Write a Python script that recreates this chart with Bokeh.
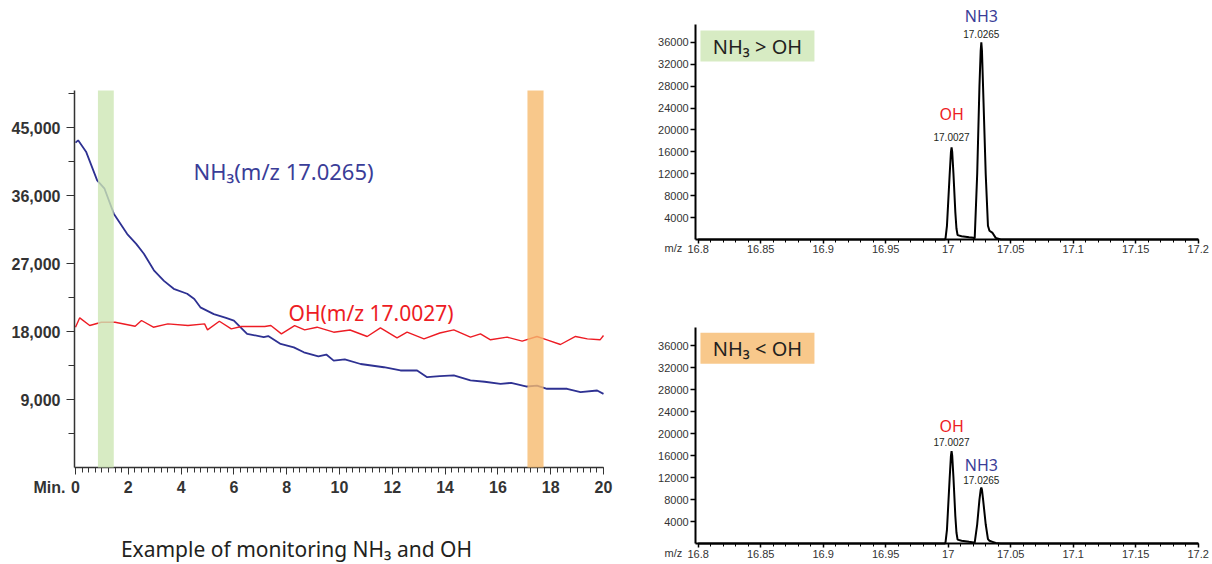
from bokeh.plotting import figure
from bokeh.layouts import row, column
from bokeh.models import (FixedTicker, NumeralTickFormatter, BoxAnnotation, Label, LinearAxis)
from bokeh.embed import file_html
from bokeh.resources import INLINE
import numpy as np

# ---------------- data: time monitoring ----------------
nh3_t = [0.0, 0.1, 0.4, 0.82, 1.1, 1.45, 1.96, 2.3, 2.59, 2.97, 3.35, 3.72, 4.23, 4.5,
         4.73, 5.24, 5.7, 6.0, 6.5, 7.13, 7.3, 7.77, 8.27, 8.65, 9.2, 9.5, 9.78, 10.2,
         10.8, 11.68, 12.31, 12.94, 13.32, 13.8, 14.33, 14.96, 15.5, 16.1, 16.5, 17.1,
         17.48, 17.86, 18.62, 19.13, 19.76, 20.0]
nh3_v = [43000, 43300, 41800, 38000, 36900, 33600, 30900, 29600, 28300, 26100, 24700,
         23650, 23000, 22300, 21200, 20300, 19800, 19450, 17700, 17250, 17400, 16350,
         15900, 15250, 14700, 14950, 14150, 14300, 13700, 13270, 12840, 12840, 11950,
         12100, 12180, 11520, 11350, 11080, 11200, 10720, 10850, 10420, 10420, 9970,
         10190, 9750]
oh_t = [0.0, 0.16, 0.54, 0.98, 1.5, 2.26, 2.5, 2.95, 3.5, 4.26, 4.89, 5.0, 5.45, 5.9,
        6.28, 7.17, 7.4, 7.8, 8.3, 8.68, 9.15, 9.78, 10.4, 11.05, 11.55, 12.18, 12.56,
        13.2, 13.8, 14.33, 14.96, 15.34, 15.72, 16.35, 16.92, 17.48, 17.86, 18.37,
        18.94, 19.39, 19.87, 20.0]
oh_v = [18570, 19810, 18790, 19230, 19230, 18700, 19455, 18570, 19010, 18790, 19010,
        18220, 19360, 18350, 18660, 18660, 18790, 17690, 18790, 18220, 18570, 17910,
        18200, 17340, 18490, 17160, 17910, 17030, 17800, 18220, 17250, 17690, 16900,
        17250, 16720, 17340, 16900, 16280, 17340, 17030, 16900, 17470]
band_green = [0.85, 1.45]
band_orange = [17.12, 17.73]
y_ticks_left = [9000, 18000, 27000, 36000, 45000]
x_ticks_left = [0, 2, 4, 6, 8, 10, 12, 14, 16, 18, 20]

# ---------------- data: mass spectra ----------------
mz = [16.8, 16.9975, 16.9979, 16.9990, 16.9997, 17.0012, 17.0022, 17.0027, 17.0032,
      17.0042, 17.0057, 17.0066, 17.0075, 17.0107, 17.0167, 17.0202, 17.0212, 17.0232,
      17.0250, 17.0260, 17.0265, 17.0270, 17.0280, 17.0300, 17.0318, 17.0330, 17.0355,
      17.0380, 17.0420, 17.2]
spec_top = [0, 0, 300, 2500, 5500, 12000, 16000, 16800, 16000, 12000, 5000, 2000, 800,
            600, 400, 300, 200, 12000, 28000, 34500, 36000, 34500, 27000, 12000, 2500,
            1600, 1200, 300, 0, 0]
spec_bot = [0, 0, 300, 2500, 5500, 12000, 16000, 16800, 16000, 12000, 5000, 2000, 700,
            500, 300, 200, 150, 3500, 8000, 9800, 10200, 9800, 7800, 3500, 800, 500,
            300, 100, 0, 0]
ms_y_ticks = [4000, 8000, 12000, 16000, 20000, 24000, 28000, 32000, 36000]
ms_x_ticks = [16.8, 16.85, 16.9, 16.95, 17.0, 17.05, 17.1, 17.15, 17.2]
ms_x_labels = {16.8: "16.8", 16.85: "16.85", 16.9: "16.9", 16.95: "16.95", 17.0: "17",
               17.05: "17.05", 17.1: "17.1", 17.15: "17.15", 17.2: "17.2"}
peak_oh = 17.0027
peak_nh3 = 17.0265

BLUE = "#2e3192"
RED = "#ed1c24"
TXT = "#231f20"
HUM = "Noto Sans"

# ---------------- left figure ----------------
# the frame covers the whole canvas; axes are drawn at fixed data locations
p = figure(width=640, height=564, x_range=(-2.841, 21.402), y_range=(-12838, 61809),
           output_backend="svg", toolbar_location=None, x_axis_type=None, y_axis_type=None,
           min_border=0)
p.outline_line_color = None
p.xgrid.visible = False
p.ygrid.visible = False

p.line(nh3_t, nh3_v, line_color=BLUE, line_width=1.8)
p.line(oh_t, oh_v, line_color=RED, line_width=1.4)
p.add_layout(BoxAnnotation(left=band_green[0], right=band_green[1], bottom=0, top=49900,
                           fill_color="#cde6b4", fill_alpha=0.8, line_color=None))
p.add_layout(BoxAnnotation(left=band_orange[0], right=band_orange[1], bottom=0, top=49900,
                           fill_color="#f6ba6e", fill_alpha=0.8, line_color=None))

xax = LinearAxis(fixed_location=0, bounds=(-0.04, 20.0),
                 ticker=FixedTicker(ticks=x_ticks_left,
                                    minor_ticks=list(np.arange(0, 20.01, 0.25))))
yax = LinearAxis(fixed_location=-0.04, bounds=(0, 49900),
                 ticker=FixedTicker(ticks=y_ticks_left,
                                    minor_ticks=[4500, 13500, 22500, 31500, 40500, 49500]),
                 formatter=NumeralTickFormatter(format="0,0"))
for ax in (xax, yax):
    ax.axis_line_color = "#333333"
    ax.axis_line_width = 1.5
    ax.major_tick_line_color = "#333333"
    ax.minor_tick_line_color = "#333333"
    ax.major_tick_in = 0
    ax.minor_tick_in = 0
    ax.major_label_text_font = "Liberation Sans"
    ax.major_label_text_font_style = "bold"
    ax.major_label_text_font_size = "16px"
    ax.major_label_text_color = "#333333"
yax.major_tick_out = 8
yax.minor_tick_out = 6
yax.major_label_standoff = 6
xax.major_tick_out = 7
xax.minor_tick_out = 5
xax.major_label_standoff = 6
p.add_layout(xax, "below")
p.add_layout(yax, "left")

p.add_layout(Label(x=4.47, y=39300, text="NH₃(m/z 17.0265)", text_font=HUM,
                   text_font_size="22px", text_color="#3a3d98", text_baseline="middle"))
p.add_layout(Label(x=8.07, y=20400, text="OH(m/z 17.0027)", text_font=HUM,
                   text_font_size="21px", text_color=RED, text_baseline="middle"))
p.add_layout(Label(x=-0.38, y=-2650, text="Min.", text_font="Liberation Sans",
                   text_font_style="bold", text_font_size="16px", text_color="#333333",
                   text_align="right", text_baseline="middle"))
p.add_layout(Label(x=8.37, y=-10850, text="Example of monitoring NH₃ and OH", text_font=HUM,
                   text_font_size="21px", text_color=TXT, text_align="center",
                   text_baseline="middle"))


# ---------------- spectra figures ----------------
def spectrum(spec, y_range, box_text, box_fill, box_y, labels):
    f = figure(width=572, height=282, x_range=(16.75384, 17.21144), y_range=y_range,
               output_backend="svg", toolbar_location=None, x_axis_type=None,
               y_axis_type=None, min_border=0)
    f.outline_line_color = None
    f.xgrid.visible = False
    f.ygrid.visible = False
    f.quad(left=[16.8018], right=[16.8930], bottom=[box_y[0]], top=[box_y[1]],
           fill_color=box_fill, line_color=None)
    f.line(mz, spec, line_color="black", line_width=2)
    fx = LinearAxis(fixed_location=0, bounds=(16.798, 17.2),
                    ticker=FixedTicker(ticks=ms_x_ticks,
                                       minor_ticks=list(np.round(np.arange(16.8, 17.2001, 0.01), 3))),
                    major_label_overrides=ms_x_labels)
    fy = LinearAxis(fixed_location=16.798, bounds=(0, 39250),
                    ticker=FixedTicker(ticks=ms_y_ticks, minor_ticks=[]))
    for ax in (fx, fy):
        ax.axis_line_color = "black"
        ax.axis_line_width = 2
        ax.major_tick_line_color = "black"
        ax.minor_tick_line_color = "black"
        ax.major_tick_line_width = 1.5
        ax.major_tick_in = 0
        ax.minor_tick_in = 0
        ax.major_label_text_font = "Liberation Sans"
        ax.major_label_text_font_size = "11px"
        ax.major_label_text_color = "#333333"
    fy.major_tick_out = 5
    fy.major_label_standoff = 2
    fx.major_tick_out = 4
    fx.minor_tick_out = 3
    fx.major_label_standoff = 2
    f.add_layout(fx, "below")
    f.add_layout(fy, "left")
    f.add_layout(Label(x=16.7802, y=-1640, text="m/z", text_font="Liberation Sans",
                       text_font_size="11px", text_color="#333333", text_align="center",
                       text_baseline="middle"))
    f.add_layout(Label(x=16.8474, y=(box_y[0] + box_y[1]) / 2, text=box_text, text_font=HUM,
                       text_font_size="20px", text_color=TXT, text_align="center",
                       text_baseline="middle"))
    for (xx, yy, txt, col, size, font) in labels:
        f.add_layout(Label(x=xx, y=yy, text=txt, text_font=font, text_font_size=size,
                           text_color=col, text_align="center", text_baseline="middle"))
    return f


top = spectrum(spec_top, (-7850, 43629), "NH₃ > OH", "#d7ebc3", (32490, 38150), [
    (peak_nh3, 40890, "NH3", "#3a3d98", "16px", HUM),
    (peak_nh3, 37600, "17.0265", TXT, "10px", "Liberation Sans"),
    (peak_oh, 22820, "OH", RED, "16px", HUM),
    (peak_oh, 18800, "17.0027", TXT, "10px", "Liberation Sans"),
])
bot = spectrum(spec_bot, (-3822, 47502), "NH₃ < OH", "#f8c88b", (32730, 38360), [
    (peak_oh, 21450, "OH", RED, "16px", HUM),
    (peak_oh, 18550, "17.0027", TXT, "10px", "Liberation Sans"),
    (peak_nh3, 14360, "NH3", "#3a3d98", "16px", HUM),
    (peak_nh3, 11640, "17.0265", TXT, "10px", "Liberation Sans"),
])

layout = row(p, column(top, bot, spacing=0), spacing=0)
open("out.html", "w").write(file_html(layout, INLINE))
